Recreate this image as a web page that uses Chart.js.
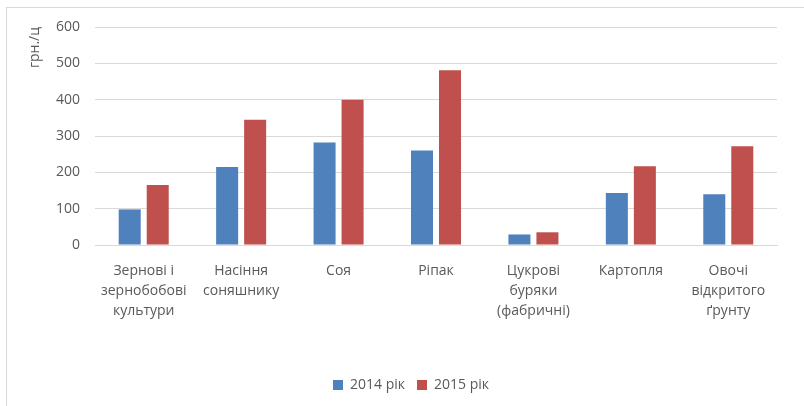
<!DOCTYPE html>
<html>
<head>
<meta charset="utf-8">
<script src="https://cdn.jsdelivr.net/npm/chart.js@4"></script>
<style>
  html, body { margin: 0; padding: 0; background: #fff; overflow: hidden; }
  #wrap { position: relative; width: 804px; height: 406px; }
  #frame { position: absolute; left: 6px; top: 7px; width: 900px; height: 500px; border: 1px solid #d9d9d9; }
  #chart { position: absolute; left: 0; top: 0; }
</style>
</head>
<body>
<div id="wrap">
  <div id="frame"></div>
  <canvas id="chart" width="804" height="406"></canvas>
</div>
<script>
const categories = [
  ['Зернові і', 'зернобобові', 'культури'],
  ['Насіння', 'соняшнику'],
  'Соя',
  'Ріпак',
  ['Цукрові', 'буряки', '(фабричні)'],
  'Картопля',
  ['Овочі', 'відкритого', 'ґрунту']
];
const seriesNames = ['2014 рік', '2015 рік'];
const values2014 = [98, 215, 282, 260, 29, 143, 140];
const values2015 = [165, 345, 400, 481, 35, 217, 272];
const yTicks = [0, 100, 200, 300, 400, 500, 600];

const font = { family: '"Open Sans", "Noto Sans", sans-serif', size: 14 };
const textColor = '#595959';
const gridColor = '#d9d9d9';

document.addEventListener("DOMContentLoaded", function() {
    const ctx = document.getElementById('chart').getContext('2d');
    new Chart(ctx, {
        type: 'bar',
        data: {
            labels: categories,
            datasets: [{
                label: seriesNames[0],
                data: values2014,
                backgroundColor: '#4f81bd',
                categoryPercentage: 0.575,
                barPercentage: 0.786
            }, {
                label: seriesNames[1],
                data: values2015,
                backgroundColor: '#c0504d',
                categoryPercentage: 0.575,
                barPercentage: 0.786
            }]
        },
        options: {
            responsive: false,
            animation: false,
            // left padding also centres the legend like the original
            layout: { padding: { left: 45, top: 27, right: 27, bottom: 4 } },
            plugins: {
                tooltip: { enabled: false },
                legend: {
                    position: 'bottom',
                    labels: {
                        color: textColor,
                        font: font,
                        boxWidth: 10,
                        boxHeight: 10,
                        padding: 12
                    }
                }
            },
            scales: {
                x: {
                    grid: { display: false, drawTicks: false },
                    border: { color: gridColor },
                    ticks: {
                        color: textColor,
                        font: Object.assign({ lineHeight: '20px' }, font),
                        padding: 16,
                        maxRotation: 0,
                        autoSkip: false
                    },
                    afterFit: function(scale) { scale.height = 121; }
                },
                y: {
                    min: 0,
                    max: 600,
                    afterBuildTicks: function(scale) { scale.ticks = yTicks.map(v => ({ value: v })); },
                    grid: { color: gridColor, drawTicks: false },
                    border: { display: false },
                    ticks: { color: textColor, font: font, padding: 15 },
                    title: {
                        display: true,
                        text: 'грн./ц',
                        align: 'end',
                        color: textColor,
                        font: font,
                        padding: { top: -18, bottom: 0 }
                    },
                    afterFit: function(scale) { scale.width = 50; }
                }
            }
        }
    });
});
</script>
</body>
</html>
